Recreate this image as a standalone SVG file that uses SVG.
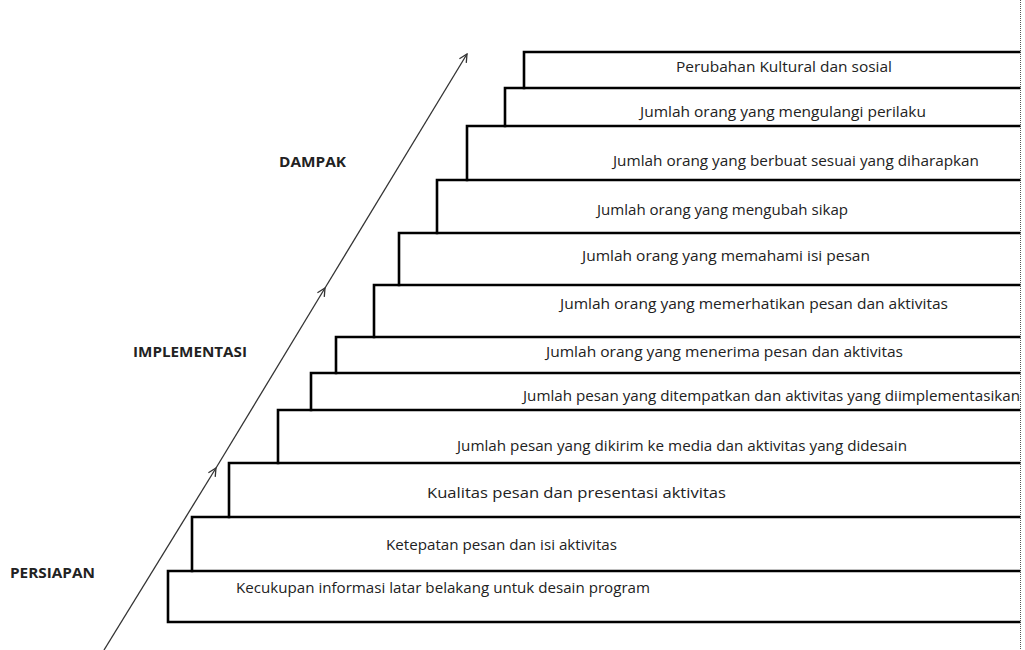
<svg xmlns="http://www.w3.org/2000/svg" width="1025" height="650" viewBox="0 0 1025 650">
<defs>
<marker id="ah" viewBox="0 0 10 10" refX="9" refY="5" markerWidth="10" markerHeight="10" markerUnits="userSpaceOnUse" orient="auto">
<path d="M1,1 L9,5 L1,9" fill="none" stroke="#333" stroke-width="1.3"/>
</marker>
<style>
.step{fill:none;stroke:#000;stroke-width:2.6;stroke-linecap:square}
.t{font-family:"Open Sans","Liberation Sans",sans-serif;font-size:14.5px;fill:#222}
.lb{font-family:"Open Sans","Liberation Sans",sans-serif;font-size:14px;font-weight:bold;fill:#222}
.ar{fill:none;stroke:#333;stroke-width:1.3}
</style>
</defs>
<rect width="1025" height="650" fill="#fff"/>
<line x1="1020.5" y1="0" x2="1020.5" y2="650" stroke="#555" stroke-width="1" stroke-dasharray="1,1"/>
<g id="step1"><path class="step" d="M524,88 V52 H1019"/><text class="t" x="676" y="72" textLength="216" lengthAdjust="spacingAndGlyphs">Perubahan Kultural dan sosial</text></g>
<g id="step2"><path class="step" d="M505,126 V88 H1019"/><text class="t" x="640" y="117" textLength="286" lengthAdjust="spacingAndGlyphs">Jumlah orang yang mengulangi perilaku</text></g>
<g id="step3"><path class="step" d="M467,180 V126 H1019"/><text class="t" x="613" y="166" textLength="366" lengthAdjust="spacingAndGlyphs">Jumlah orang yang berbuat sesuai yang diharapkan</text></g>
<g id="step4"><path class="step" d="M437,233 V180 H1019"/><text class="t" x="597" y="215" textLength="251" lengthAdjust="spacingAndGlyphs">Jumlah orang yang mengubah sikap</text></g>
<g id="step5"><path class="step" d="M399,285 V233 H1019"/><text class="t" x="582" y="261" textLength="288" lengthAdjust="spacingAndGlyphs">Jumlah orang yang memahami isi pesan</text></g>
<g id="step6"><path class="step" d="M374,337 V285 H1019"/><text class="t" x="560" y="309" textLength="388" lengthAdjust="spacingAndGlyphs">Jumlah orang yang memerhatikan pesan dan aktivitas</text></g>
<g id="step7"><path class="step" d="M336,373 V337 H1019"/><text class="t" x="546" y="357" textLength="357" lengthAdjust="spacingAndGlyphs">Jumlah orang yang menerima pesan dan aktivitas</text></g>
<g id="step8"><path class="step" d="M311,410 V373 H1019"/><text class="t" x="523" y="401" textLength="497" lengthAdjust="spacingAndGlyphs">Jumlah pesan yang ditempatkan dan aktivitas yang diimplementasikan</text></g>
<g id="step9"><path class="step" d="M278,463 V410 H1019"/><text class="t" x="457" y="451" textLength="450" lengthAdjust="spacingAndGlyphs">Jumlah pesan yang dikirim ke media dan aktivitas yang didesain</text></g>
<g id="step10"><path class="step" d="M229,517 V463 H1019"/><text class="t" x="427" y="498" textLength="299" lengthAdjust="spacingAndGlyphs">Kualitas pesan dan presentasi aktivitas</text></g>
<g id="step11"><path class="step" d="M192,571 V517 H1019"/><text class="t" x="386" y="550" textLength="231" lengthAdjust="spacingAndGlyphs">Ketepatan pesan dan isi aktivitas</text></g>
<g id="step12"><path class="step" d="M1019,622 H168 V571 H1019"/><text class="t" x="236" y="593" textLength="414" lengthAdjust="spacingAndGlyphs">Kecukupan informasi latar belakang untuk desain program</text></g>
<g id="label-dampak"><text class="lb" x="279" y="167" textLength="67" lengthAdjust="spacingAndGlyphs">DAMPAK</text></g>
<g id="label-implementasi"><text class="lb" x="133" y="357" textLength="114" lengthAdjust="spacingAndGlyphs">IMPLEMENTASI</text></g>
<g id="label-persiapan"><text class="lb" x="10" y="578" textLength="85" lengthAdjust="spacingAndGlyphs">PERSIAPAN</text></g>
<g id="connectors">
<line class="ar" x1="104" y1="650" x2="216" y2="468" marker-end="url(#ah)"/>
<line class="ar" x1="216" y1="468" x2="325" y2="288" marker-end="url(#ah)"/>
<line class="ar" x1="325" y1="288" x2="467" y2="54" marker-end="url(#ah)"/>
</g>
</svg>
